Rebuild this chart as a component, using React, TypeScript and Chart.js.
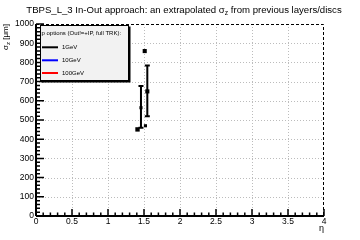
import React, { useEffect, useRef } from "react";
import { Chart, registerables } from "chart.js";

Chart.register(...registerables);

// ---- data ----
const titleMain = "TBPS_L_3 In-Out approach: an extrapolated σ";
const titleSub = "z";
const titleRest = " from previous layers/discs";
const yTitleMain = "σ";
const yTitleSub = "z";
const yTitleRest = " [μm]";
const xTitle = "η";
const legendHeader = "p options (Out!=+IP, full TRK):";

const seriesLabels = ["1GeV", "10GeV", "100GeV"];
const seriesColors = ["#000000", "#0000ff", "#ff0000"];

const eta1GeV = [1.41, 1.458, 1.52, 1.51, 1.546];
const sigma1GeV = [451, 564, 470, 859, 649];
const errLow1GeV = [451, 460, 470, 859, 519];
const errHigh1GeV = [451, 677, 470, 859, 784];
const markerRadius1GeV = [3.1, 2.2, 2.2, 2.9, 2.9];

const eta10GeV: number[] = [];
const sigma10GeV: number[] = [];
const eta100GeV: number[] = [];
const sigma100GeV: number[] = [];

const xMin = 0, xMax = 4, xStep = 0.5, xMinorStep = 0.1;
const yMin = 0, yMax = 1000, yStep = 100, yMinorStep = 20;

const FONT = "'Liberation Sans', Arial, Helvetica, sans-serif";

const toPoints = (xs: number[], ys: number[]) => xs.map((x, i) => ({ x, y: ys[i] }));

const rootPlugin = {
  id: "rootStyle",
  beforeDatasetsDraw(chart: any) {
    const { ctx, chartArea: a, scales } = chart;
    const x = scales.x, y = scales.y;
    ctx.save();
    // dotted grid
    ctx.strokeStyle = "#bcbcbc";
    ctx.lineWidth = 1;
    ctx.setLineDash([1, 2]);
    for (let v = xMin + xStep; v < xMax - 1e-9; v += xStep) {
      const px = Math.round(x.getPixelForValue(v)) + 0.5;
      ctx.beginPath(); ctx.moveTo(px, a.top); ctx.lineTo(px, a.bottom); ctx.stroke();
    }
    for (let v = yMin + yStep; v < yMax - 1e-9; v += yStep) {
      const py = Math.round(y.getPixelForValue(v)) + 0.5;
      ctx.beginPath(); ctx.moveTo(a.left, py); ctx.lineTo(a.right, py); ctx.stroke();
    }
    ctx.setLineDash([]);
    // error bars
    ctx.strokeStyle = seriesColors[0];
    ctx.lineWidth = 2;
    eta1GeV.forEach((e, i) => {
      if (errHigh1GeV[i] === errLow1GeV[i]) return;
      const px = x.getPixelForValue(e);
      const pLo = y.getPixelForValue(errLow1GeV[i]);
      const pHi = y.getPixelForValue(errHigh1GeV[i]);
      ctx.beginPath();
      ctx.moveTo(px, pLo); ctx.lineTo(px, pHi);
      ctx.moveTo(px - 2.5, pLo); ctx.lineTo(px + 2.5, pLo);
      ctx.moveTo(px - 2.5, pHi); ctx.lineTo(px + 2.5, pHi);
      ctx.stroke();
    });
    ctx.restore();
  },
  afterDraw(chart: any) {
    const { ctx, chartArea: a, scales } = chart;
    const x = scales.x, y = scales.y;
    ctx.save();
    // dashed top/right frame
    ctx.strokeStyle = "#000";
    ctx.lineWidth = 1;
    ctx.setLineDash([3, 2]);
    ctx.beginPath();
    ctx.moveTo(a.left, a.top + 0.5); ctx.lineTo(a.right - 0.5, a.top + 0.5);
    ctx.lineTo(a.right - 0.5, a.bottom);
    ctx.stroke();
    ctx.setLineDash([]);
    // axes
    ctx.lineWidth = 2;
    ctx.beginPath();
    ctx.moveTo(a.left, a.top); ctx.lineTo(a.left, a.bottom);
    ctx.moveTo(a.left, a.bottom); ctx.lineTo(a.right, a.bottom);
    ctx.stroke();
    ctx.lineWidth = 1.5;
    ctx.beginPath();
    const nx = Math.round((xMax - xMin) / xMinorStep);
    for (let i = 0; i <= nx; i++) {
      const v = xMin + i * xMinorStep;
      const px = x.getPixelForValue(v);
      const len = i % 5 === 0 ? 7 : 3.5;
      ctx.moveTo(px, a.bottom); ctx.lineTo(px, a.bottom - len);
    }
    const ny = Math.round((yMax - yMin) / yMinorStep);
    for (let i = 0; i <= ny; i++) {
      const v = yMin + i * yMinorStep;
      const py = y.getPixelForValue(v);
      const len = i % 5 === 0 ? 8 : 4;
      ctx.moveTo(a.left, py); ctx.lineTo(a.left + len, py);
    }
    ctx.stroke();

    // legend
    const lx = 40, ly = 25, lw = 89, lh = 56;
    ctx.fillStyle = "#000";
    ctx.fillRect(lx + 1.5, ly + 1.5, lw, lh);
    ctx.fillStyle = "#f2f2f2";
    ctx.fillRect(lx, ly, lw, lh);
    ctx.strokeStyle = "#000";
    ctx.lineWidth = 1;
    ctx.strokeRect(lx + 0.5, ly + 0.5, lw - 1, lh - 1);
    ctx.fillStyle = "#000";
    ctx.font = `6px ${FONT}`;
    ctx.textBaseline = "middle";
    ctx.textAlign = "left";
    ctx.fillText(legendHeader, 41.5, 33);
    const itemY = [47.3, 60.3, 73];
    chart.data.datasets.forEach((ds: any, i: number) => {
      ctx.strokeStyle = ds.borderColor;
      ctx.lineWidth = 2;
      ctx.beginPath(); ctx.moveTo(42, itemY[i]); ctx.lineTo(58, itemY[i]); ctx.stroke();
      ctx.fillStyle = "#000";
      ctx.fillText(ds.label, 62, itemY[i]);
    });

    // title
    ctx.textBaseline = "alphabetic";
    ctx.fillStyle = "#000";
    const tf = `9.6px ${FONT}`, tsf = `6.8px ${FONT}`;
    ctx.font = tf; const w1 = ctx.measureText(titleMain).width; const w3 = ctx.measureText(titleRest).width;
    ctx.font = tsf; const w2 = ctx.measureText(titleSub).width;
    let tx = 184 - (w1 + w2 + w3) / 2;
    ctx.font = tf; ctx.fillText(titleMain, tx, 12.5); tx += w1;
    ctx.font = tsf; ctx.fillText(titleSub, tx, 15); tx += w2;
    ctx.font = tf; ctx.fillText(titleRest, tx, 12.5);

    // y title (rotated)
    const yf = `8px ${FONT}`, ysf = `6px ${FONT}`;
    ctx.font = yf; const a1 = ctx.measureText(yTitleMain).width; const a3 = ctx.measureText(yTitleRest).width;
    ctx.font = ysf; const a2 = ctx.measureText(yTitleSub).width;
    ctx.save();
    ctx.translate(7.5, 24);
    ctx.rotate(-Math.PI / 2);
    let yx = -(a1 + a2 + a3);
    ctx.font = yf; ctx.fillText(yTitleMain, yx, 0); yx += a1;
    ctx.font = ysf; ctx.fillText(yTitleSub, yx, 2); yx += a2;
    ctx.font = yf; ctx.fillText(yTitleRest, yx, 0);
    ctx.restore();

    // x title
    ctx.font = `9px ${FONT}`;
    ctx.textAlign = "right";
    ctx.fillText(xTitle, 324, 231);
    ctx.restore();
  },
};

export default function App() {
  const ref = useRef<HTMLCanvasElement | null>(null);
  useEffect(() => {
    document.body.style.margin = "0";
    const canvas = ref.current!;
    const chart = new Chart(canvas, {
      type: "scatter",
      data: {
        datasets: [
          {
            label: seriesLabels[0],
            data: toPoints(eta1GeV, sigma1GeV),
            borderColor: seriesColors[0],
            backgroundColor: seriesColors[0],
            pointStyle: "rect",
            pointRadius: markerRadius1GeV,
            pointBorderWidth: 0,
          },
          {
            label: seriesLabels[1],
            data: toPoints(eta10GeV, sigma10GeV),
            borderColor: seriesColors[1],
            backgroundColor: seriesColors[1],
            pointStyle: "rect",
          },
          {
            label: seriesLabels[2],
            data: toPoints(eta100GeV, sigma100GeV),
            borderColor: seriesColors[2],
            backgroundColor: seriesColors[2],
            pointStyle: "rect",
          },
        ],
      },
      options: {
        responsive: false,
        animation: false,
        layout: { padding: { top: 24, right: 36, left: 0, bottom: 0 } },
        plugins: { legend: { display: false }, title: { display: false }, tooltip: { enabled: false } },
        scales: {
          x: {
            type: "linear",
            min: xMin,
            max: xMax,
            grid: { display: false, drawTicks: false },
            border: { display: false },
            ticks: {
              stepSize: xStep,
              autoSkip: false,
              maxRotation: 0,
              padding: 1,
              color: "#000",
              font: { family: FONT, size: 8.5 },
              callback: (v: any) => String(v),
            },
            afterFit: (s: any) => { s.height = 24; },
          },
          y: {
            type: "linear",
            min: yMin,
            max: yMax,
            grid: { display: false, drawTicks: false },
            border: { display: false },
            ticks: {
              stepSize: yStep,
              padding: 2,
              color: "#000",
              font: { family: FONT, size: 8.5 },
              callback: (v: any) => String(v),
            },
            afterFit: (s: any) => { s.width = 36; },
          },
        },
      },
      plugins: [rootPlugin],
    });
    return () => chart.destroy();
  }, []);
  return (
    <div style={{ position: "fixed", left: 0, top: 0, width: 360, height: 240, background: "#fff" }}>
      <canvas ref={ref} width={360} height={240} />
    </div>
  );
}
